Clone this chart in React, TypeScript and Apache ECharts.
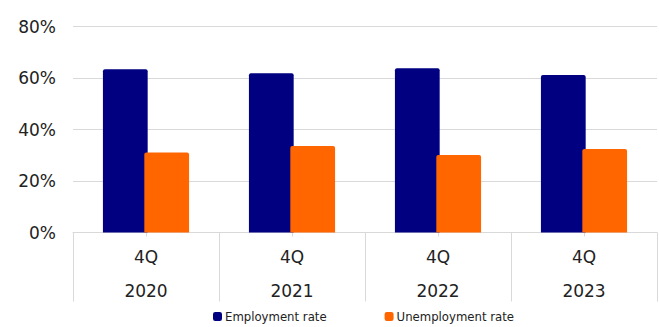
import React, { useEffect, useRef } from "react";
import * as echarts from "echarts";

const quarters = ["4Q", "4Q", "4Q", "4Q"];
const years = ["2020", "2021", "2022", "2023"];
const employmentRate = [63.4, 61.8, 63.8, 61.2];
const unemploymentRate = [31.1, 33.6, 30.1, 32.4];
const yTicks = { min: 0, max: 80, interval: 20 };

export default function App() {
  const ref = useRef<HTMLDivElement>(null);
  useEffect(() => {
    if (!ref.current) return;
    const chart = echarts.init(ref.current, null, { renderer: "svg" });
    const categories = years.map((y, i) => `${quarters[i]}|${y}`);
    chart.setOption({
      animation: false,
      textStyle: { fontFamily: "DejaVu Sans" },
      grid: { left: 73, right: 2, top: 26.5, bottom: 94.5, containLabel: false },
      legend: {
        left: 213,
        top: 310,
        padding: 0,
        itemWidth: 9,
        itemHeight: 9,
        itemGap: 58,
        icon: "roundRect",
        textStyle: { fontSize: 13, color: "#222", fontFamily: "DejaVu Sans Condensed, DejaVu Sans", padding: [0, 0, 0, -2] },
        data: ["Employment rate", "Unemployment rate"],
      },
      xAxis: [
        {
          type: "category",
          data: categories,
          axisLine: { show: true, lineStyle: { color: "#d9d9d9", width: 1 } },
          axisTick: { show: true, length: 69, lineStyle: { color: "#d9d9d9" } },
          axisLabel: {
            margin: 7,
            formatter: (v: string) => {
              const [q, y] = v.split("|");
              return `{q|${q}}\n{y|${y}}`;
            },
            rich: {
              q: { fontSize: 17, lineHeight: 34, color: "#222", fontFamily: "DejaVu Sans" },
              y: { fontSize: 17, lineHeight: 34, color: "#222", fontFamily: "DejaVu Sans" },
            },
          },
        },
        {
          type: "category",
          data: categories,
          position: "bottom",
          axisLine: { show: false },
          axisTick: { show: true, alignWithLabel: true, length: 4, lineStyle: { color: "#d9d9d9" } },
          axisLabel: { show: false },
        },
      ],
      yAxis: {
        type: "value",
        min: yTicks.min,
        max: yTicks.max,
        interval: yTicks.interval,
        axisLine: { show: false },
        axisTick: { show: false },
        splitLine: { lineStyle: { color: "#d9d9d9", width: 1 } },
        axisLabel: { formatter: "{value}%", fontSize: 17, color: "#222", margin: 17, fontFamily: "DejaVu Sans" },
      },
      series: [
        {
          name: "Employment rate",
          type: "bar",
          data: employmentRate,
          barGap: "-7.5%",
          barCategoryGap: "41%",
          itemStyle: { color: "#000080", borderRadius: [2, 2, 0, 0] },
        },
        {
          name: "Unemployment rate",
          type: "bar",
          data: unemploymentRate,
          barGap: "-7.5%",
          barCategoryGap: "41%",
          itemStyle: { color: "#ff6600", borderRadius: [2, 2, 0, 0] },
        },
      ],
    });
    return () => chart.dispose();
  }, []);
  return <div ref={ref} style={{ width: 659, height: 327, position: "absolute", left: 0, top: 0 }} />;
}
